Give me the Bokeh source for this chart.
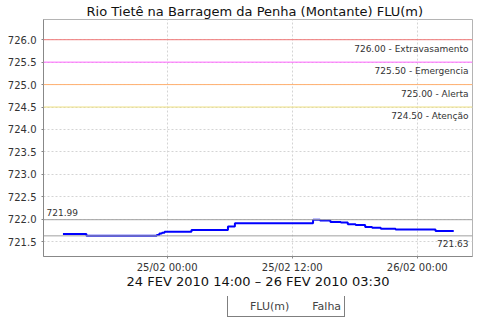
import pandas as pd
from bokeh.plotting import figure
from bokeh.layouts import column
from bokeh.models import (Span, Label, Legend, LegendItem, FixedTicker,
                          NumeralTickFormatter, DatetimeTickFormatter, Range1d)
from bokeh.embed import file_html
from bokeh.resources import INLINE

# ---- data ----
times = ["2010-02-24 14:00", "2010-02-24 16:15", "2010-02-24 23:00", "2010-02-24 23:15",
         "2010-02-24 23:30", "2010-02-24 23:45", "2010-02-25 02:20", "2010-02-25 05:50",
         "2010-02-25 06:30", "2010-02-25 14:00", "2010-02-25 14:40", "2010-02-25 15:40",
         "2010-02-25 16:40", "2010-02-25 17:20", "2010-02-25 18:05", "2010-02-25 19:00",
         "2010-02-25 19:40", "2010-02-25 20:30", "2010-02-25 21:55", "2010-02-26 01:45",
         "2010-02-26 03:30"]
flu = [721.67, 721.63, 721.65, 721.68, 721.70, 721.72, 721.76, 721.84, 721.91, 721.99,
       721.97, 721.94, 721.93, 721.89, 721.87, 721.83, 721.81, 721.79, 721.77, 721.74,
       721.74]
threshold_values = [726.00, 725.50, 725.00, 724.50]
threshold_names = ["Extravasamento", "Emergencia", "Alerta", "Atenção"]
threshold_colors = ["#f07878", "#ff66ff", "#ffb070", "#eee080"]
max_value = 721.99
min_value = 721.63
x_ticks = ["2010-02-25 00:00", "2010-02-25 12:00", "2010-02-26 00:00"]
y_ticks = [721.5, 722.0, 722.5, 723.0, 723.5, 724.0, 724.5, 725.0, 725.5, 726.0]
x_start, x_end = "2010-02-24 12:08", "2010-02-26 05:18"
y_start, y_end = 721.17, 726.45
title = "Rio Tietê na Barragem da Penha (Montante) FLU(m)"
period = "24 FEV 2010 14:00 – 26 FEV 2010 03:30"
legend_labels = ["FLU(m)", "Falha"]

t = pd.to_datetime(times)
FONT = "DejaVu Sans"
LINE_COLOR = "#0000ff"
FAIL_COLOR = "#c8c8c8"

p = figure(width=480, height=296, x_axis_type="datetime", output_backend="svg",
           toolbar_location=None, title=title,
           x_range=Range1d(pd.Timestamp(x_start), pd.Timestamp(x_end)),
           y_range=Range1d(y_start, y_end),
           min_border_left=43, min_border_right=8, min_border_top=19, min_border_bottom=40)
p.background_fill_color = "white"
p.border_fill_color = "white"
p.outline_line_color = "#b4b4b4"

p.title.align = "left"
p.title.offset = 43
p.title.text_font = FONT
p.title.text_font_size = "13px"
p.title.text_font_style = "normal"
p.title.text_color = "#111111"
p.title.standoff = 2

# grid
for g in (p.xgrid, p.ygrid):
    g.grid_line_color = "#d4d4d4"
    g.grid_line_dash = "2 2"

# axes
xt = [pd.Timestamp(s).value // 10**6 for s in x_ticks]
p.xaxis.ticker = FixedTicker(ticks=xt)
p.xaxis.formatter = DatetimeTickFormatter(hours="%d/%m %H:%M", days="%d/%m %H:%M",
                                          hourmin="%d/%m %H:%M", minutes="%d/%m %H:%M")
p.yaxis.ticker = FixedTicker(ticks=y_ticks)
p.yaxis.formatter = NumeralTickFormatter(format="0.0")
p.xaxis.axis_label = period
for ax in (p.xaxis, p.yaxis):
    ax.axis_line_color = "#888888"
    ax.major_tick_line_color = "#888888"
    ax.major_tick_out = 2
    ax.major_tick_in = 0
    ax.minor_tick_line_color = None
    ax.major_label_text_font = FONT
    ax.major_label_text_color = "#333333"
p.xaxis.major_label_text_font_size = "10px"
p.yaxis.major_label_text_font_size = "10px"
p.xaxis.major_label_standoff = 3
p.yaxis.major_label_standoff = 5
p.xaxis.axis_label_text_font = FONT
p.xaxis.axis_label_text_font_size = "13px"
p.xaxis.axis_label_text_font_style = "normal"
p.xaxis.axis_label_text_color = "#111111"
p.xaxis.axis_label_standoff = -2

# thresholds
for v, n, c in zip(threshold_values, threshold_names, threshold_colors):
    p.add_layout(Span(location=v, dimension="width", line_color=c, line_width=1))
    p.add_layout(Label(x=pd.Timestamp(x_end), y=v, text=f"{v:.2f} - {n}",
                       text_align="right", text_baseline="top", x_offset=-4, y_offset=-4,
                       text_font=FONT, text_font_size="9px", text_color="#333333"))

# max/min markers
p.add_layout(Span(location=max_value, dimension="width", line_color="#a0a0a0", line_width=1))
p.add_layout(Span(location=min_value, dimension="width", line_color="#a0a0a0", line_width=1))
p.add_layout(Label(x=pd.Timestamp(x_start), y=max_value, text=f"{max_value:.2f}",
                   text_align="left", text_baseline="bottom", x_offset=3, y_offset=4,
                   text_font=FONT, text_font_size="9px", text_color="#333333"))
p.add_layout(Label(x=pd.Timestamp(x_end), y=min_value, text=f"{min_value:.2f}",
                   text_align="right", text_baseline="top", x_offset=-4, y_offset=-4,
                   text_font=FONT, text_font_size="9px", text_color="#333333"))

# series
p.step(t, flu, mode="after", line_color=LINE_COLOR, line_width=2)

# ---- legend strip (separate small figure below the chart) ----
lg = figure(width=480, height=24, output_backend="svg", toolbar_location=None,
            x_range=Range1d(0, 1), y_range=Range1d(0, 1),
            x_axis_location=None, y_axis_location=None,
            min_border_left=0, min_border_right=0, min_border_top=0, min_border_bottom=0)
lg.outline_line_color = None
lg.xgrid.visible = False
lg.ygrid.visible = False
lg.background_fill_color = "white"
lg.border_fill_color = "white"
r_line = lg.line(x=[], y=[], line_color=LINE_COLOR, line_width=2)
r_fail = lg.scatter(x=[], y=[], marker="circle", size=8, fill_color=FAIL_COLOR,
                    line_color=FAIL_COLOR)
legend = Legend(items=[LegendItem(label=legend_labels[0], renderers=[r_line]),
                       LegendItem(label=legend_labels[1], renderers=[r_fail])],
                orientation="horizontal", location=(184, 3),
                label_text_font=FONT, label_text_font_size="11px",
                border_line_color="black", border_line_width=1,
                padding=3, spacing=4, margin=0, glyph_width=16, glyph_height=14,
                label_standoff=3, label_height=14)
lg.add_layout(legend, "center")

layout = column(p, lg, spacing=0)
open("out.html", "w").write(file_html(layout, INLINE))
